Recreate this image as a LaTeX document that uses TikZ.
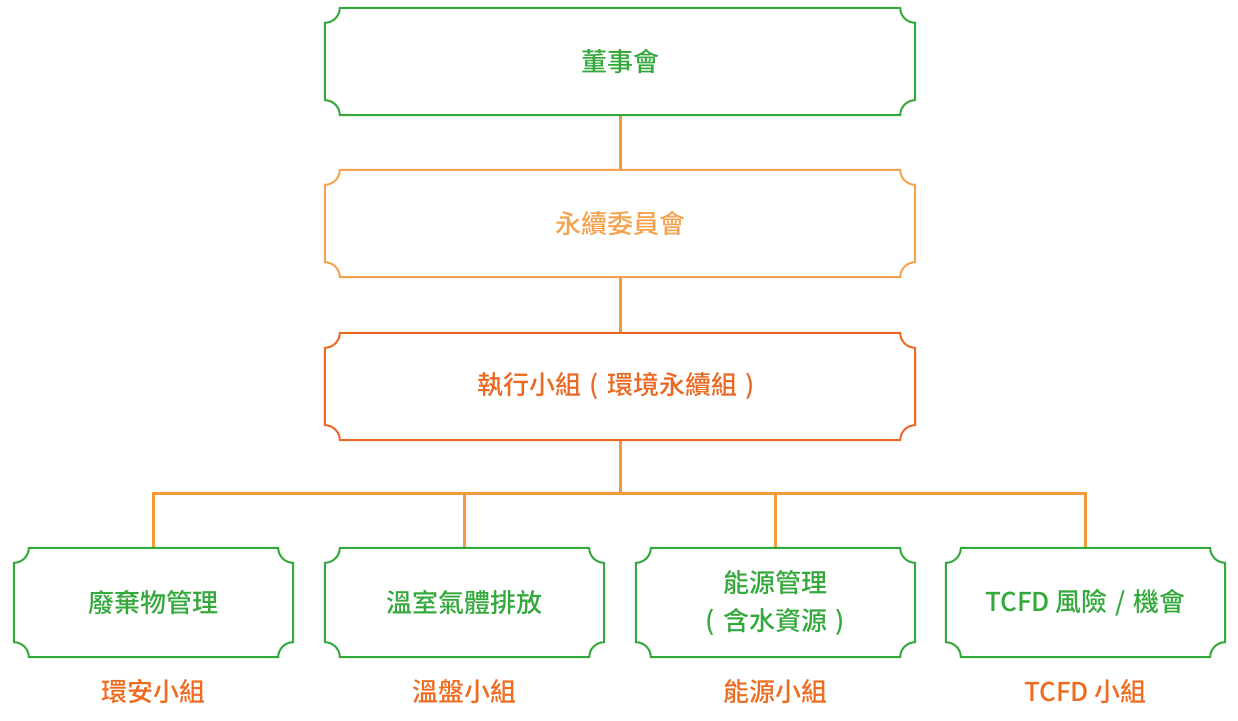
\documentclass[tikz,border=0pt]{standalone}
\usepackage{fontspec}
\setmainfont{Noto Sans CJK TC}[UprightFont=* Medium]
\definecolor{cgreen}{HTML}{33A83B}
\definecolor{clight}{HTML}{F5A24E}
\definecolor{cline}{HTML}{F39B3C}
\definecolor{cdark}{HTML}{EA6821}
\definecolor{clabel}{HTML}{EE6B1F}
\newcommand\ticketborder[2]{%
  \draw[line width=2pt,#2] ([xshift=15pt]#1.north west) -- ([xshift=-15pt]#1.north east)
    arc[start angle=180,end angle=270,radius=15pt] -- ([yshift=15pt]#1.south east)
    arc[start angle=90,end angle=180,radius=15pt] -- ([xshift=15pt]#1.south west)
    arc[start angle=0,end angle=90,radius=15pt] -- ([yshift=-15pt]#1.north west)
    arc[start angle=270,end angle=360,radius=15pt] -- cycle;}
\newcommand\emb[1]{\makebox[1em]{#1}}
\begin{document}
\begin{tikzpicture}[x=1pt,y=1pt,
  bigbox/.style={minimum width=590pt,minimum height=107pt,inner sep=0pt,font=\fontsize{26}{30}\selectfont},
  smallbox/.style={minimum width=279pt,minimum height=109pt,inner sep=0pt,align=center,text=cgreen,font=\fontsize{26}{38}\selectfont},
  grouplabel/.style={text=clabel,font=\fontsize{26}{30}\selectfont,inner sep=0pt},
  conn/.style={cline,line width=3pt}]
\useasboundingbox (0,0) rectangle (1238,720);
\node[bigbox,text=cgreen] (b1) at (620,658.5) {董事會};
\node[bigbox,text=clight] (b2) at (620,496.5) {永續委員會};
\node[bigbox,text=cdark] (b3) at (620,333.5) {執行小組\emb{(}環境永續組\emb{)}};
\node[smallbox] (g1) at (153.5,117.5) {廢棄物管理};
\node[smallbox] (g2) at (464.5,117.5) {溫室氣體排放};
\node[smallbox] (g3) at (775.5,117.5) {能源管理\\\emb{(}含水資源\emb{)}};
\node[smallbox] (g4) at (1085.5,117.5) {TCFD 風險\emb{/}機會};
\coordinate (bus) at (620,226);
\draw[conn] (b1.south) -- (b2.north);
\draw[conn] (b2.south) -- (b3.north);
\draw[conn] (b3.south) -- (bus);
\draw[conn] (g1.north) |- (bus) -| (g4.north);
\draw[conn] (g2.north) -- (g2.north |- bus);
\draw[conn] (g3.north) -- (g3.north |- bus);
\ticketborder{b1}{cgreen}
\ticketborder{b2}{clight}
\ticketborder{b3}{cdark}
\ticketborder{g1}{cgreen}
\ticketborder{g2}{cgreen}
\ticketborder{g3}{cgreen}
\ticketborder{g4}{cgreen}
\node[grouplabel] (l1) at (153.5,28) {環安小組};
\node[grouplabel] (l2) at (464.5,28) {溫盤小組};
\node[grouplabel] (l3) at (775.5,28) {能源小組};
\node[grouplabel] (l4) at (1085.5,28) {TCFD 小組};
\end{tikzpicture}
\end{document}
